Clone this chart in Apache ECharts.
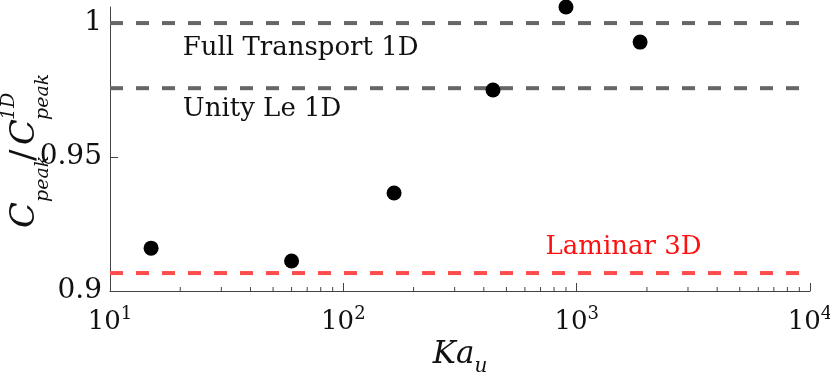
<!DOCTYPE html>
<html>
<head>
<meta charset="utf-8">
<script src="https://cdn.jsdelivr.net/npm/echarts@6/dist/echarts.min.js"></script>
<style>
html,body{margin:0;padding:0;background:#fff}
#chart{width:830px;height:374px}
</style>
</head>
<body>
<div id="chart"></div>
<script>
// measured points
var kaU = [15, 60, 165, 438, 900, 1870];
var cRatio = [0.9160, 0.9112, 0.9366, 0.9750, 1.0060, 0.9929];
// reference levels
var refNames = ['Full Transport 1D', 'Unity Le 1D', 'Laminar 3D'];
var refLevels = [1.0, 0.9757, 0.9067];
var refLabelX = [20.5, 20.5, 735];
var refLabelY = [0.9905, 0.9680, 0.9165];
// ticks
var xTicks = [10, 100, 1000, 10000];
var yTicks = [0.9, 0.95, 1];

var SERIF = '"DejaVu Serif", serif';
var lineColors = ['#666666', '#666666', '#ff4d4d'];
var textColors = ['#111111', '#111111', '#ff1010'];

// minor ticks of the log axis (2..9 in every decade)
var minorTicks = [];
for (var k = 1; k < 4; k++) {
  for (var m = 2; m < 10; m++) minorTicks.push(m * Math.pow(10, k));
}

var chart = echarts.init(document.getElementById('chart'));

var series = [];
for (var i = 0; i < refLevels.length; i++) {
  series.push({
    type: 'line',
    data: [[xTicks[0], refLevels[i]], [xTicks[xTicks.length - 1], refLevels[i]]],
    symbol: 'none',
    silent: true,
    lineStyle: { color: lineColors[i], width: 4, type: [13, 13] },
    z: 2
  });
}
//annotation texts
series.push({
  type: 'scatter',
  data: refNames.map(function (n, i) {
    return { value: [refLabelX[i], refLabelY[i]], name: n, label: { color: textColors[i] } };
  }),
  symbolSize: 0,
  silent: true,
  itemStyle: { opacity: 1 },
  label: {
    show: true,
    position: 'right',
    distance: 0,
    fontFamily: SERIF,
    fontSize: 26,
    formatter: '{b}'
  },
  z: 3
});
series.push({
  type: 'scatter',
  data: kaU.map(function (x, i) { return [x, cRatio[i]]; }),
  symbol: 'circle',
  symbolSize: 15,
  clip: false,
  itemStyle: { color: '#000', opacity: 1 },
  z: 5
});
series.push({
  type: 'custom',
  data: minorTicks.map(function (v) { return [v, yTicks[0]]; }),
  silent: true,
  clip: false,
  renderItem: function (params, api) {
    var p = api.coord([api.value(0), api.value(1)]);
    return {
      type: 'line',
      shape: { x1: p[0], y1: p[1], x2: p[0], y2: p[1] - 4 },
      style: { stroke: '#444', lineWidth: 1 }
    };
  },
  z: 4
});

chart.setOption({
  animation: false,
  grid: { left: 110, right: 20, top: 7, bottom: 83, outerBoundsMode: 'none', containLabel: false },
  xAxis: {
    type: 'log',
    logBase: 10,
    min: 10,
    max: 10000,
    name: '{i|Ka}{u|u}',
    nameLocation: 'middle',
    nameGap: 47,
    nameTextStyle: {
      rich: {
        i: { fontFamily: SERIF, fontStyle: 'italic', fontSize: 31, color: '#111', verticalAlign: 'bottom', padding: [0, 0, 6, 0] },
        u: { fontFamily: SERIF, fontStyle: 'italic', fontSize: 20, color: '#111', verticalAlign: 'bottom' }
      }
    },
    axisLine: { lineStyle: { color: '#444', width: 1 } },
    axisTick: { inside: true, length: 8, lineStyle: { color: '#444' } },
    splitLine: { show: false },
    axisLabel: {
      margin: 18,
      formatter: function (v) { return '{b|10}{s|' + Math.round(Math.log10(v)) + '}'; },
      rich: {
        b: { fontFamily: SERIF, fontSize: 26, color: '#111', verticalAlign: 'bottom', lineHeight: 26 },
        s: { fontFamily: SERIF, fontSize: 18, color: '#111', verticalAlign: 'bottom', lineHeight: 18, padding: [0, 0, 12, 0] }
      }
    }
  },
  yAxis: {
    type: 'value',
    min: yTicks[0],
    max: 1.006,
    interval: 0.05,
    axisLine: { show: true, lineStyle: { color: '#444', width: 1 } },
    axisTick: { show: true, inside: true, length: 8, lineStyle: { color: '#444' }, customValues: yTicks },
    splitLine: { show: false },
    axisLabel: {
      margin: 8,
      customValues: yTicks,
      fontFamily: SERIF,
      fontSize: 28,
      color: '#111',
      formatter: function (v) { return String(+v.toFixed(2)); }
    }
  },
  series: series,
  graphic: [{
    type: 'group',
    x: 36,
    y: 228,
    rotation: Math.PI / 2,
    children: [
      { type: 'text', x: 0, y: -11, style: { text: 'C', fontFamily: SERIF, fontStyle: 'italic', fontSize: 34, fill: '#111', verticalAlign: 'middle' } },
      { type: 'text', x: 26, y: 7, style: { text: 'peak', fontFamily: SERIF, fontStyle: 'italic', fontSize: 19, fill: '#111', verticalAlign: 'middle' } },
      { type: 'text', x: 67, y: -11, style: { text: '/', fontFamily: SERIF, fontSize: 34, fill: '#111', verticalAlign: 'middle' } },
      { type: 'text', x: 83, y: -11, style: { text: 'C', fontFamily: SERIF, fontStyle: 'italic', fontSize: 34, fill: '#111', verticalAlign: 'middle' } },
      { type: 'text', x: 108, y: -27, style: { text: '1D', fontFamily: SERIF, fontStyle: 'italic', fontSize: 19, fill: '#111', verticalAlign: 'middle' } },
      { type: 'text', x: 108, y: 7, style: { text: 'peak', fontFamily: SERIF, fontStyle: 'italic', fontSize: 19, fill: '#111', verticalAlign: 'middle' } }
    ]
  }]
});
</script>
</body>
</html>
